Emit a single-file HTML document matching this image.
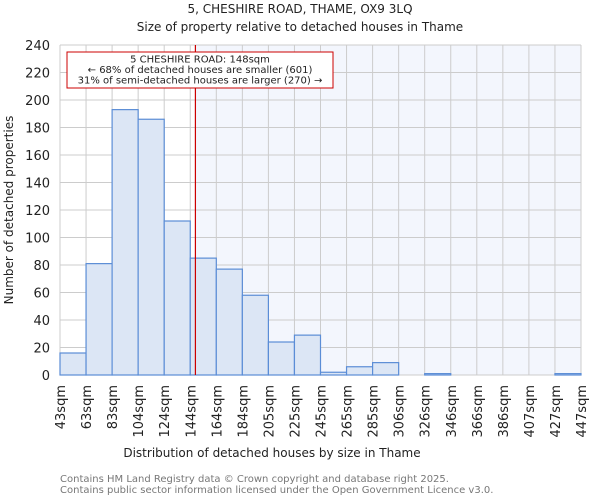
<!DOCTYPE html>
<html><head><meta charset="utf-8"><style>
body{margin:0;background:#fff;font-family:"DejaVu Sans","Liberation Sans",sans-serif;}
</style></head><body>
<svg width="600" height="500" xmlns="http://www.w3.org/2000/svg" font-family="DejaVu Sans, Liberation Sans, sans-serif">
<text x="300" y="13" text-anchor="middle" font-size="12" fill="#222">5, CHESHIRE ROAD, THAME, OX9 3LQ</text>
<text x="300" y="31" text-anchor="middle" font-size="12" fill="#222">Size of property relative to detached houses in Thame</text>
<g id="plot"></g>
<text x="272" y="457" text-anchor="middle" font-size="12" fill="#222">Distribution of detached houses by size in Thame</text>
<text transform="translate(13,210) rotate(-90)" text-anchor="middle" font-size="12" fill="#222">Number of detached properties</text>
<text x="60" y="482" font-size="10" fill="#777">Contains HM Land Registry data © Crown copyright and database right 2025.</text>
<text x="60" y="493" font-size="10" fill="#777">Contains public sector information licensed under the Open Government Licence v3.0.</text>
</svg>
<script>
const binLabels=["43sqm","63sqm","83sqm","104sqm","124sqm","144sqm","164sqm","184sqm","205sqm","225sqm","245sqm","265sqm","285sqm","306sqm","326sqm","346sqm","366sqm","386sqm","407sqm","427sqm","447sqm"];
const counts=[16,81,193,186,112,85,77,58,24,29,2,6,9,0,1,0,0,0,0,1];
const yTicks=[0,20,40,60,80,100,120,140,160,180,200,220,240];
const binStart=43, binEnd=447, propertySize=148;
const X0=60,X1=581,Y0=375,Y1=45,YMAX=240;
const ns="http://www.w3.org/2000/svg";
const g=document.getElementById('plot');
const nb=counts.length, bw=(X1-X0)/nb;
const xIdx=i=>X0+i*bw;
const xVal=v=>X0+(v-binStart)/(binEnd-binStart)*(X1-X0);
const y=v=>Y0-v/YMAX*(Y0-Y1);
function mk(t,a){const e=document.createElementNS(ns,t);for(const k in a)e.setAttribute(k,a[k]);g.appendChild(e);return e;}
const px=xVal(propertySize);
let e=mk('rect',{x:X0,y:Y1,width:X1-X0,height:Y0-Y1,fill:'#fff'});


e=mk('rect',{x:px,y:Y1,width:X1-px,height:Y0-Y1,fill:'#f3f6fd'});


yTicks.forEach(t=>{
 e=mk('line',{x1:X0,x2:X1,y1:y(t),y2:y(t),stroke:'#ccc','stroke-width':1});
 
 
 e=mk('text',{x:X0-10,y:y(t)+5,'text-anchor':'end','font-size':13,fill:'#222'});e.textContent=t;
 
 
});
binLabels.forEach((l,i)=>{
 const x=xIdx(i);
 e=mk('line',{x1:x,x2:x,y1:Y1,y2:Y0,stroke:'#ccc','stroke-width':1});
 
 
 e=mk('text',{transform:`translate(${x+5},385) rotate(-90)`,'text-anchor':'end','font-size':13,fill:'#222'});e.textContent=l;
 
 
});
counts.forEach((c,i)=>{
 if(c<=0)return;
 e=mk('rect',{x:xIdx(i),y:y(c),width:bw,height:Y0-y(c),fill:'#dce6f5',stroke:'#5b8dd6','stroke-width':1.2});
 
 
});
e=mk('line',{x1:px,x2:px,y1:Y1,y2:Y0,stroke:'#cc0000','stroke-width':1.2});


e=mk('rect',{x:67,y:52,width:266,height:36,fill:'#fff',stroke:'#cc0000','stroke-width':1});


["5 CHESHIRE ROAD: 148sqm","← 68% of detached houses are smaller (601)","31% of semi-detached houses are larger (270) →"].forEach((s,i)=>{
 e=mk('text',{x:200,y:62.5+i*10.5,'text-anchor':'middle','font-size':10,fill:'#222'});e.textContent=s;
 
 
});
</script>
</body></html>
